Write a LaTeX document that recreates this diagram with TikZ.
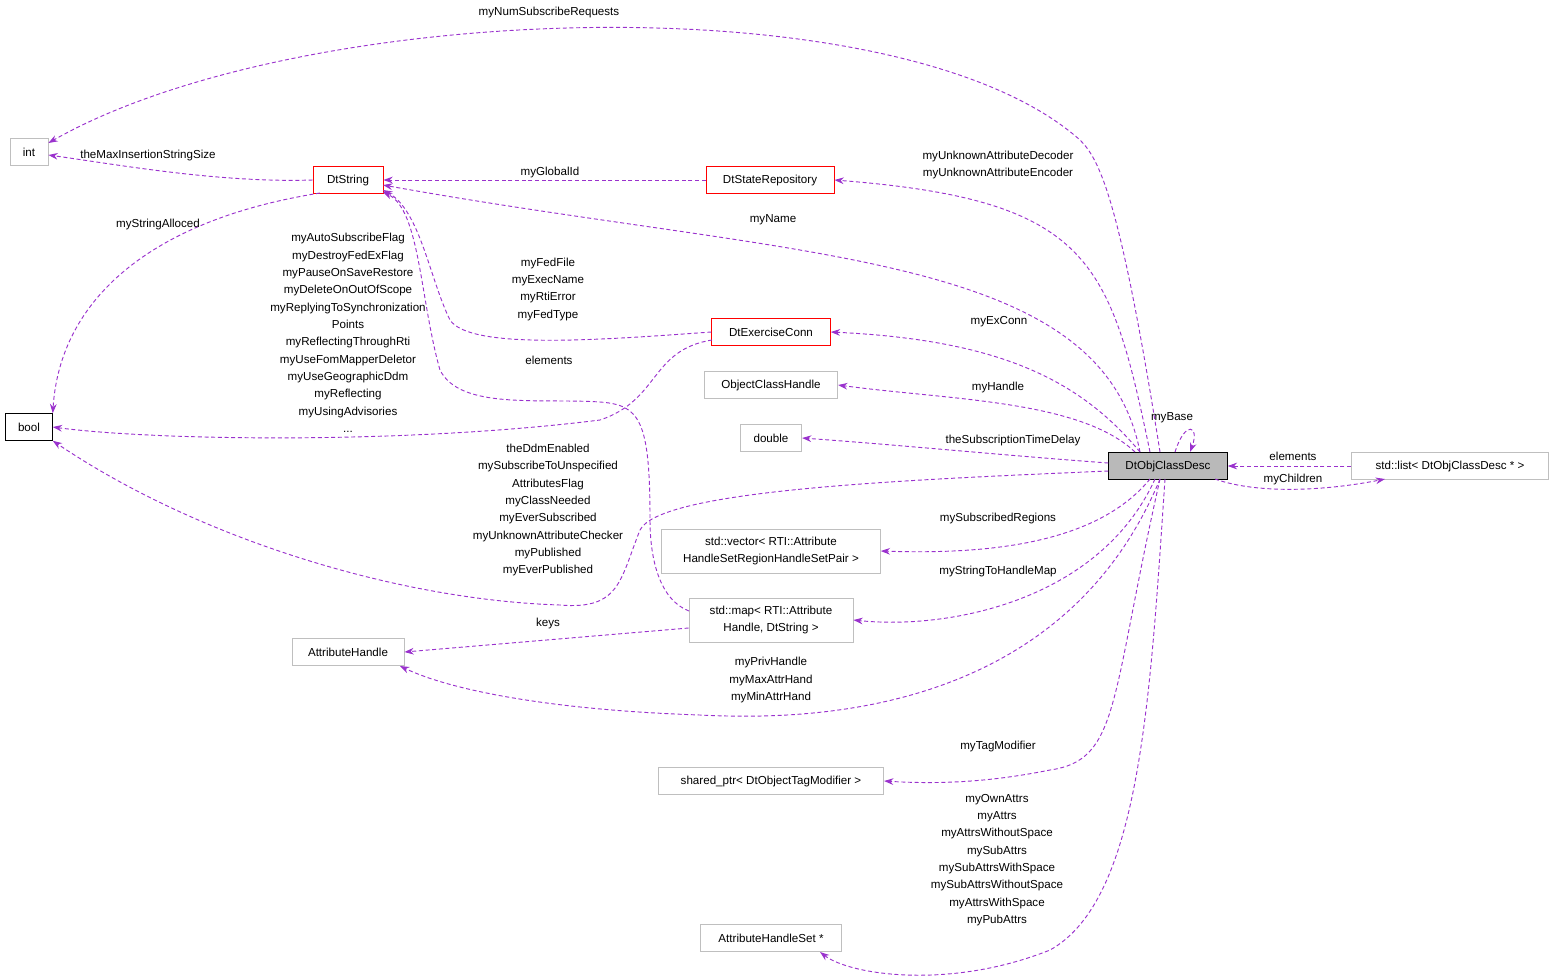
\documentclass[tikz,border=0pt]{standalone}
\usepackage{fontspec}
\setmainfont{Liberation Sans}
\usetikzlibrary{arrows.meta}
\definecolor{edge}{HTML}{9A32CD}
\definecolor{gbox}{HTML}{BFBFBF}
\begin{document}
\begin{tikzpicture}[x=0.75pt,y=-0.75pt,font=\fontsize{8.7}{10.5}\selectfont,
 box/.style={draw=gbox,inner sep=0pt,minimum height=20pt,align=center,line width=0.6pt,font=\fontsize{8.7}{12.5}\selectfont},
 red/.style={box,draw=red},
 e/.style={draw=edge,densely dashed,line width=0.7pt,-{Stealth[length=7pt,width=5pt,fill=edge]}},
 lab/.style={align=center,inner sep=0pt,font=\fontsize{8.7}{13}\selectfont}]
\useasboundingbox (0,0) rectangle (1555,979);
\node[box,minimum width=28.5pt] (int) at (29,152) {int};
\node[red,minimum width=52.5pt] (dts) at (348,180) {DtString};
\node[red,minimum width=96pt] (dsr) at (770,180) {DtStateRepository};
\node[box,draw=black,minimum width=35pt] (bool) at (29,427) {bool};
\node[red,minimum width=89pt] (dec) at (771,332) {DtExerciseConn};
\node[box,minimum width=100pt] (och) at (771,385) {ObjectClassHandle};
\node[box,minimum width=46pt] (dbl) at (771,438) {double};
\node[box,draw=black,fill=gray!55,minimum width=89pt] (main) at (1168,466) {DtObjClassDesc};
\node[box,minimum width=148pt] (list) at (1450,466) {std::list< DtObjClassDesc * >};
\node[box,minimum width=164pt,minimum height=33pt] (vec) at (771,551) {std::vector< RTI::Attribute\\HandleSetRegionHandleSetPair >};
\node[box,minimum width=123pt,minimum height=33pt] (map) at (771,620) {std::map< RTI::Attribute\\Handle, DtString >};
\node[box,minimum width=84pt] (ah) at (348,652) {AttributeHandle};
\node[box,minimum width=169pt] (sp) at (771,781) {shared\_ptr< DtObjectTagModifier >};
\node[box,minimum width=106pt] (ahs) at (771,938) {AttributeHandleSet *};

\draw[e] (1160,452) .. controls (1120,200) and (1100,160) .. (1080,140) .. controls (900,-20) and (300,0) .. (int.east|-0,143);
\node[lab] (l1) at (549,12) {myNumSubscribeRequests};
\draw[e] (dts.west) .. controls (220,183) and (120,165) .. (int.east|-0,155);
\node[lab] (l2) at (148,155) {theMaxInsertionStringSize};
\draw[e] (dsr.west) -- (dts.east);
\node[lab] (l3) at (550,172) {myGlobalId};
\draw[e] (1150,452) .. controls (1110,260) and (1090,200) .. (dsr.east);
\node[lab] (l4) at (998,165) {myUnknownAttributeDecoder\\myUnknownAttributeEncoder};
\draw[e] (1140,452) .. controls (1100,250) and (800,260) .. (383,185);
\node[lab] (l5) at (773,220) {myName};
\draw[e] (320,193) .. controls (150,220) and (60,300) .. (bool.north east);
\node[lab] (l6) at (158,224) {myStringAlloced};
\draw[e] (dec.west) .. controls (600,340) and (470,350) .. (450,320) .. controls (430,280) and (420,210) .. (383,190);
\node[lab] (l7) at (548,289) {myFedFile\\myExecName\\myRtiError\\myFedType};
\draw[e] (712,340) .. controls (650,350) and (660,400) .. (600,420) .. controls (400,445) and (150,440) .. (bool.east);
\node[lab] (l8) at (348,333) {myAutoSubscribeFlag\\myDestroyFedExFlag\\myPauseOnSaveRestore\\myDeleteOnOutOfScope\\myReplyingToSynchronization\\Points\\myReflectingThroughRti\\myUseFomMapperDeletor\\myUseGeographicDdm\\myReflecting\\myUsingAdvisories\\...};
\draw[e] (1140,452) .. controls (1080,380) and (1000,340) .. (dec.east);
\node[lab] (l9) at (999,322) {myExConn};
\draw[e] (1135,452) .. controls (1080,400) and (950,400) .. (och.east);
\node[lab] (l10) at (998,387) {myHandle};
\draw[e] (main.west) ++(0,-3) .. controls (1000,455) and (900,445) .. (dbl.east);
\node[lab] (l11) at (1013,440) {theSubscriptionTimeDelay};
\draw[e] (1175,452) .. controls (1185,420) and (1200,425) .. (1190,452);
\node[lab] (l12) at (1172,418) {myBase};
\draw[e] (list.west) -- (main.east);
\node[lab] (l13) at (1293,456) {elements};
\draw[e] (1215,479) .. controls (1260,495) and (1330,490) .. (1385,479);
\node[lab] (l14) at (1293,479) {myChildren};
\draw[e] (main.west) ++(0,5) .. controls (900,480) and (660,490) .. (640,530) .. controls (620,580) and (620,610) .. (560,605) .. controls (400,600) and (200,540) .. (bool.south east);
\node[lab] (l15) at (548,510) {theDdmEnabled\\mySubscribeToUnspecified\\AttributesFlag\\myClassNeeded\\myEverSubscribed\\myUnknownAttributeChecker\\myPublished\\myEverPublished};
\draw[e] (1150,479) .. controls (1100,540) and (1000,555) .. (vec.east);
\node[lab] (l16) at (998,518) {mySubscribedRegions};
\draw[e] (689,611) .. controls (660,600) and (650,560) .. (650,520) .. controls (650,420) and (640,405) .. (600,402) .. controls (540,398) and (460,410) .. (440,370) .. controls (420,300) and (420,210) .. (383,192);
\node[lab] (l17) at (549,360) {elements};
\draw[e] (1155,479) .. controls (1100,600) and (950,630) .. (map.east);
\node[lab] (l18) at (998,571) {myStringToHandleMap};
\draw[e] (map.west) ++(0,8) -- (ah.east);
\node[lab] (l19) at (548,623) {keys};
\draw[e] (1160,479) .. controls (1060,720) and (800,720) .. (700,715) .. controls (550,710) and (450,690) .. (400,666);
\node[lab] (l20) at (771,680) {myPrivHandle\\myMaxAttrHand\\myMinAttrHand};
\draw[e] (1160,479) .. controls (1110,700) and (1120,760) .. (1050,770) .. controls (1000,780) and (950,785) .. (sp.east);
\node[lab] (l21) at (998,746) {myTagModifier};
\draw[e] (1165,479) .. controls (1150,700) and (1140,900) .. (1050,950) .. controls (950,990) and (850,975) .. (820,952);
\node[lab] (l22) at (997,860) {myOwnAttrs\\myAttrs\\myAttrsWithoutSpace\\mySubAttrs\\mySubAttrsWithSpace\\mySubAttrsWithoutSpace\\myAttrsWithSpace\\myPubAttrs};
\end{tikzpicture}
\end{document}
